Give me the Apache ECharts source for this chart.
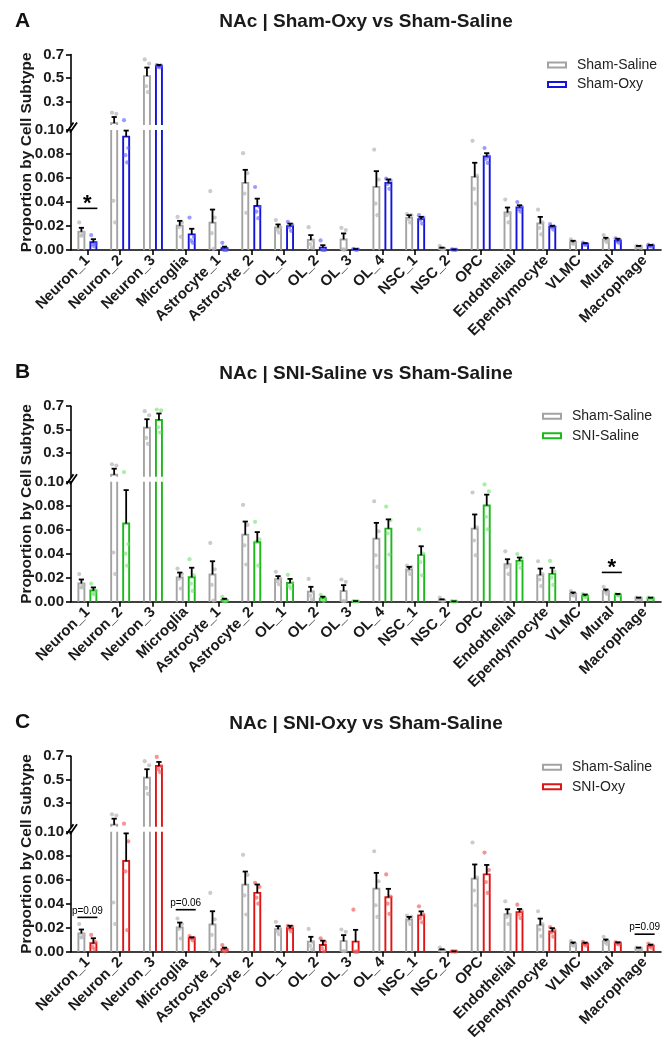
<!DOCTYPE html>
<html>
<head>
<meta charset="utf-8">
<script src="https://cdn.jsdelivr.net/npm/echarts@6/dist/echarts.min.js"></script>
<style>
html,body{margin:0;padding:0;background:#fff;}
#chart{width:672px;height:1050px;}
</style>
</head>
<body>
<div id="chart"></div>
<script>
// ---------------- DATA ----------------
const categories = ['Neuron_1','Neuron_2','Neuron_3','Microglia','Astrocyte_1','Astrocyte_2','OL_1','OL_2','OL_3','OL_4','NSC_1','NSC_2','OPC','Endothelial','Ependymocyte','VLMC','Mural','Macrophage'];

const upperTicks = [0.3, 0.5, 0.7];
const lowerTicks = [0, 0.02, 0.04, 0.06, 0.08, 0.10];

// Sham-Saline (control, shared by all panels)
const shamSalineMean = [0.0152,0.116,0.516,0.0202,0.0227,0.0558,0.0188,0.0083,0.0088,0.0525,0.0268,0.0014,0.0608,0.0312,0.0221,0.0064,0.0088,0.0028];
const shamSalineSem  = [0.0033,0.052,0.073,0.0041,0.011,0.011,0.0025,0.0041,0.005,0.0132,0.0022,0.0006,0.0119,0.0042,0.0055,0.0013,0.0014,0.0006];
const shamSalineDots = [
 [0.023,0.014,0.012,0.012],[0.205,0.195,0.041,0.023],[0.658,0.623,0.43,0.38],[0.0276,0.023,0.019,0.011],
 [0.049,0.027,0.014,0.001],[0.0807,0.064,0.047,0.031],[0.0249,0.019,0.017,0.0145],[0.019,0.008,0.005,0.002],
 [0.0185,0.0166,0.0005,0.0003],[0.0837,0.0587,0.0387,0.029],[0.030,0.029,0.026,0.023],[0.0035,0.001,0.001,0.0005],
 [0.091,0.062,0.051,0.0387],[0.042,0.031,0.029,0.023],[0.0337,0.023,0.0185,0.013],[0.0088,0.0065,0.0055,0.005],
 [0.0124,0.0085,0.008,0.0065],[0.0035,0.003,0.0025,0.002]
];

// Sham-Oxy
const shamOxyMean = [0.0064,0.0945,0.600,0.013,0.0014,0.0367,0.0199,0.002,0.0005,0.0558,0.0257,0.0003,0.0779,0.0354,0.0193,0.005,0.0077,0.0036];
const shamOxySem  = [0.0026,0.005,0.012,0.0047,0.0014,0.0061,0.0021,0.002,0.0003,0.003,0.0019,0.0001,0.0028,0.0019,0.0009,0.0008,0.0017,0.0006];
const shamOxyDots = [
 [0.0124,0.0055,0.0045,0.003],[0.141,0.085,0.079,0.073],[0.61,0.605,0.595,0.59],[0.027,0.011,0.008,0.006],
 [0.006,0.0,0.0,0.0],[0.0525,0.036,0.032,0.0265],[0.0235,0.021,0.019,0.016],[0.008,0.0,0.0,0.0],
 [0.001,0.0005,0.0005,0.0],[0.0594,0.058,0.055,0.051],[0.029,0.027,0.025,0.022],[0.0005,0.0003,0.0003,0.0001],
 [0.085,0.078,0.076,0.0726],[0.040,0.036,0.034,0.032],[0.0215,0.0195,0.019,0.017],[0.0062,0.005,0.0045,0.0043],
 [0.0098,0.008,0.007,0.006],[0.0045,0.0038,0.0033,0.0028]
];

// SNI-Saline
const sniSalineMean = [0.0093,0.0652,0.582,0.0204,0.0014,0.0496,0.0156,0.0028,0.0003,0.0609,0.0388,0.0002,0.0802,0.034,0.0232,0.0048,0.0057,0.0028];
const sniSalineSem  = [0.0026,0.0278,0.056,0.0079,0.0011,0.0084,0.0034,0.0014,0.0002,0.0077,0.0074,0.0001,0.009,0.0028,0.0051,0.0012,0.0008,0.0006];
const sniSalineDots = [
 [0.015,0.009,0.007,0.006],[0.139,0.048,0.040,0.030],[0.672,0.665,0.52,0.476],[0.0354,0.022,0.015,0.009],
 [0.004,0.001,0.0005,0.0],[0.0666,0.052,0.050,0.030],[0.0224,0.016,0.013,0.011],[0.0057,0.003,0.002,0.0005],
 [0.0005,0.0003,0.0002,0.0002],[0.0793,0.068,0.057,0.0393],[0.0603,0.040,0.033,0.022],[0.0004,0.0002,0.0001,0.0001],
 [0.0977,0.092,0.0708,0.0603],[0.0397,0.036,0.032,0.0283],[0.034,0.025,0.020,0.014],[0.0063,0.005,0.0042,0.0037],
 [0.0064,0.006,0.0055,0.005],[0.0035,0.003,0.0025,0.0022]
];

// SNI-Oxy
const sniOxyMean = [0.007,0.0756,0.616,0.0112,0.002,0.049,0.0196,0.0056,0.0084,0.0454,0.0303,0.0002,0.0644,0.033,0.0168,0.0064,0.007,0.0048];
const sniOxySem  = [0.0042,0.023,0.035,0.0008,0.0014,0.007,0.002,0.0036,0.0098,0.007,0.0033,0.0001,0.0079,0.0026,0.0028,0.0012,0.0008,0.0011];
const sniOxyDots = [
 [0.014,0.008,0.004,0.002],[0.126,0.092,0.067,0.018],[0.694,0.615,0.59,0.565],[0.013,0.0115,0.011,0.0095],
 [0.0056,0.0015,0.0007,0.0002],[0.0574,0.054,0.045,0.040],[0.0215,0.021,0.019,0.017],[0.0112,0.008,0.003,0.0003],
 [0.035,0.0,0.0,0.0],[0.0644,0.046,0.040,0.0315],[0.0378,0.031,0.028,0.0245],[0.0003,0.0002,0.0002,0.0001],
 [0.0826,0.068,0.058,0.049],[0.0392,0.034,0.031,0.028],[0.0205,0.018,0.016,0.0125],[0.0083,0.0065,0.006,0.005],
 [0.008,0.0072,0.0068,0.006],[0.0068,0.005,0.0042,0.0032]
];

// significance annotations per panel
const sigCatsA = [0],     sigLevelsA = [0.0347],  sigTextsA = ['*'];
const sigCatsB = [16],    sigLevelsB = [0.0244],  sigTextsB = ['*'];
const sigCatsC = [0,3,17], sigLevelsC = [0.0286,0.035,0.0146], sigTextsC = ['p=0.09','p=0.06','p=0.09'];

const panelLetters = ['A','B','C'];
const panelTitles = ['NAc | Sham-Oxy vs Sham-Saline','NAc | SNI-Saline vs Sham-Saline','NAc | SNI-Oxy vs Sham-Saline'];
const groupNames = ['Sham-Oxy','SNI-Saline','SNI-Oxy'];
const yAxisTitle = 'Proportion by Cell Subtype';

// ---------------- STYLE / LAYOUT ----------------
const FONT = "'Liberation Sans', Arial, Helvetica, sans-serif";
const gridLeft = 71, gridWidth = 590;
const panelBase = [250, 601.7, 951.7];
const lowerH = 120, gapH = 5, upperH = 70.5;
const grayStroke = '#a3a3a3', grayDot = 'rgba(185,185,185,0.75)';
const groupStroke = ['#1414dc', '#1cb81c', '#e01414'];
const groupDot = ['rgba(90,90,255,0.6)', 'rgba(110,225,110,0.6)', 'rgba(240,90,90,0.65)'];
const legendLeft = [547, 542, 542];
const legendTop = [57, 408.3, 759.3];
const titleY = [22, 373.3, 723.5];
const BAR_OFF = 6, BAR_HALF = 3;
const jitter = [-2.2, 2.2, -0.8, 1.0];

const panelGroups = [
  {mean: shamOxyMean, sem: shamOxySem, dots: shamOxyDots},
  {mean: sniSalineMean, sem: sniSalineSem, dots: sniSalineDots},
  {mean: sniOxyMean, sem: sniOxySem, dots: sniOxyDots}
];
const panelSig = [
  {cats: sigCatsA, levels: sigLevelsA, texts: sigTextsA},
  {cats: sigCatsB, levels: sigLevelsB, texts: sigTextsB},
  {cats: sigCatsC, levels: sigLevelsC, texts: sigTextsC}
];

function buildData(mean, sem, dots) {
  return categories.map((c, i) => [i, mean[i], mean[i] + sem[i]].concat(dots[i]));
}

function makeRender(lo, hi, offset, stroke, dotFill) {
  return function (params, api) {
    const i = api.value(0), m = api.value(1), t = api.value(2);
    const base = api.coord([i, lo]);
    const cx = base[0] + offset, yLo = base[1];
    const yOf = v => api.coord([i, v])[1];
    const children = [];
    const meanHere = lo === 0 ? (m <= hi) : (m > lo);
    // bar outline
    if (lo === 0 || m > lo) {
      const yT = yOf(Math.min(m, hi));
      if (m <= hi) {
        children.push({type: 'polyline', shape: {points: [[cx - BAR_HALF, yLo], [cx - BAR_HALF, yT], [cx + BAR_HALF, yT], [cx + BAR_HALF, yLo]]},
          style: {stroke: stroke, lineWidth: 1.9, fill: 'none', lineJoin: 'miter'}});
      } else {
        children.push({type: 'line', shape: {x1: cx - BAR_HALF, y1: yLo, x2: cx - BAR_HALF, y2: yT}, style: {stroke: stroke, lineWidth: 1.9}});
        children.push({type: 'line', shape: {x1: cx + BAR_HALF, y1: yLo, x2: cx + BAR_HALF, y2: yT}, style: {stroke: stroke, lineWidth: 1.9}});
      }
    }
    // individual points
    for (let k = 3; k < 7; k++) {
      const v = api.value(k);
      if (isNaN(v)) continue;
      const inRange = lo === 0 ? (v >= 0 && v <= hi) : (v > lo && v <= hi);
      if (!inRange) continue;
      children.push({type: 'circle', shape: {cx: cx + jitter[k - 3], cy: yOf(v), r: 2.1}, style: {fill: dotFill}});
    }
    // error bar (mean + SEM)
    if (meanHere && t > m) {
      const y1 = yOf(m), y2 = yOf(Math.min(t, hi));
      children.push({type: 'line', shape: {x1: cx, y1: y1, x2: cx, y2: y2}, style: {stroke: '#000', lineWidth: 1.8}});
      if (t <= hi) children.push({type: 'line', shape: {x1: cx - 2.6, y1: y2, x2: cx + 2.6, y2: y2}, style: {stroke: '#000', lineWidth: 1.8}});
    }
    return {type: 'group', children: children};
  };
}

function makeSigRender(texts) {
  return function (params, api) {
    const i = api.value(0), v = api.value(1);
    const p = api.coord([i, v]);
    const txt = texts[params.dataIndex];
    const star = txt === '*';
    return {type: 'group', children: [
      {type: 'line', shape: {x1: p[0] - 10, y1: p[1], x2: p[0] + 10, y2: p[1]}, style: {stroke: '#000', lineWidth: 1.6}},
      {type: 'text', x: p[0], y: star ? p[1] - 4 : p[1] - 1.5, style: {text: txt, fill: '#000',
        font: star ? 'bold 22px ' + FONT : '10px ' + FONT, align: 'center', verticalAlign: star ? 'middle' : 'bottom'}}
    ]};
  };
}

const grids = [], xAxes = [], yAxes = [], series = [], legends = [], graphics = [];

panelBase.forEach((b, p) => {
  const lowerTop = b - lowerH, upperTop = b - lowerH - gapH - upperH;
  // upper grid
  grids.push({left: gridLeft, width: gridWidth, top: upperTop, height: upperH});
  // lower grid
  grids.push({left: gridLeft, width: gridWidth, top: lowerTop, height: lowerH});
  const gu = 2 * p, gl = 2 * p + 1;
  xAxes.push({type: 'category', gridIndex: gu, data: categories, axisLine: {show: false}, axisTick: {show: false}, axisLabel: {show: false}, splitLine: {show: false}});
  xAxes.push({type: 'category', gridIndex: gl, data: categories,
    axisLine: {show: true, lineStyle: {color: '#000', width: 1.6}},
    axisTick: {show: true, alignWithLabel: true, length: 5, lineStyle: {color: '#000', width: 1.6}},
    axisLabel: {interval: 0, rotate: 45, margin: 8, fontFamily: FONT, fontWeight: 'bold', fontSize: 15, color: '#1a1a1a'},
    splitLine: {show: false}});
  const yCommon = {
    axisLine: {show: true, lineStyle: {color: '#000', width: 1.6}},
    axisTick: {show: true, length: 5, lineStyle: {color: '#000', width: 1.6}},
    splitLine: {show: false}
  };
  yAxes.push(Object.assign({}, yCommon, {type: 'value', gridIndex: gu, min: 0.1, max: 0.7, interval: 0.2,
    axisTick: Object.assign({}, yCommon.axisTick, {customValues: upperTicks}),
    axisLabel: {customValues: upperTicks, margin: 7, formatter: v => v.toFixed(1), fontFamily: FONT, fontWeight: 'bold', fontSize: 15, color: '#1a1a1a'}}));
  yAxes.push(Object.assign({}, yCommon, {type: 'value', gridIndex: gl, min: 0, max: 0.1, interval: 0.02,
    axisLabel: {margin: 7, formatter: v => v.toFixed(2), fontFamily: FONT, fontWeight: 'bold', fontSize: 15, color: '#1a1a1a'}}));

  const salineData = buildData(shamSalineMean, shamSalineSem, shamSalineDots);
  const g = panelGroups[p];
  const otherData = buildData(g.mean, g.sem, g.dots);
  [[gu, 0.1, 0.7], [gl, 0, 0.1]].forEach(([gi, lo, hi]) => {
    series.push({type: 'custom', name: 'Sham-Saline', xAxisIndex: gi, yAxisIndex: gi, data: salineData,
      itemStyle: {color: '#fff', borderColor: grayStroke, borderWidth: 2},
      renderItem: makeRender(lo, hi, -BAR_OFF, grayStroke, grayDot), silent: true});
    series.push({type: 'custom', name: groupNames[p], xAxisIndex: gi, yAxisIndex: gi, data: otherData,
      itemStyle: {color: '#fff', borderColor: groupStroke[p], borderWidth: 2},
      renderItem: makeRender(lo, hi, BAR_OFF, groupStroke[p], groupDot[p]), silent: true});
  });
  const sg = panelSig[p];
  series.push({type: 'custom', name: 'sig' + p, xAxisIndex: gl, yAxisIndex: gl,
    data: sg.cats.map((c, k) => [c, sg.levels[k]]), renderItem: makeSigRender(sg.texts), silent: true});

  legends.push({orient: 'vertical', left: legendLeft[p], top: legendTop[p], padding: 0, itemWidth: 18, itemHeight: 5, itemGap: 3.5,
    icon: 'rect', selectedMode: false,
    textStyle: {fontFamily: FONT, fontSize: 14, color: '#222', lineHeight: 16, padding: [0, 0, 0, 6]},
    data: [
      {name: 'Sham-Saline', itemStyle: {color: '#fff', borderColor: grayStroke, borderWidth: 2}},
      {name: groupNames[p], itemStyle: {color: '#fff', borderColor: groupStroke[p], borderWidth: 2}}
    ]});

  // panel letter, title, y title
  graphics.push({type: 'text', x: 15, y: titleY[p] - 1, style: {text: panelLetters[p], font: 'bold 21px ' + FONT, fill: '#111', align: 'left', verticalAlign: 'middle'}});
  graphics.push({type: 'text', x: gridLeft + gridWidth / 2, y: titleY[p], style: {text: panelTitles[p], font: 'bold 19px ' + FONT, fill: '#1a1a1a', align: 'center', verticalAlign: 'middle'}});
  graphics.push({type: 'text', x: 27, y: (upperTop + b) / 2, rotation: Math.PI / 2, style: {text: yAxisTitle, font: 'bold 15.5px ' + FONT, fill: '#1a1a1a', align: 'center', verticalAlign: 'middle'}});
  // axis break marks
  const by = b - lowerH - gapH / 2;
  [0, 3.5].forEach(dx => {
    graphics.push({type: 'line', shape: {x1: gridLeft - 4.5 + dx, y1: by + 5, x2: gridLeft + 2.5 + dx, y2: by - 5}, style: {stroke: '#000', lineWidth: 1.8}});
  });
});

const chart = echarts.init(document.getElementById('chart'), null, {renderer: 'canvas', width: 672, height: 1050});
chart.setOption({
  backgroundColor: '#fff',
  animation: false,
  grid: grids,
  xAxis: xAxes,
  yAxis: yAxes,
  legend: legends,
  series: series,
  graphic: graphics
});
</script>
</body>
</html>
